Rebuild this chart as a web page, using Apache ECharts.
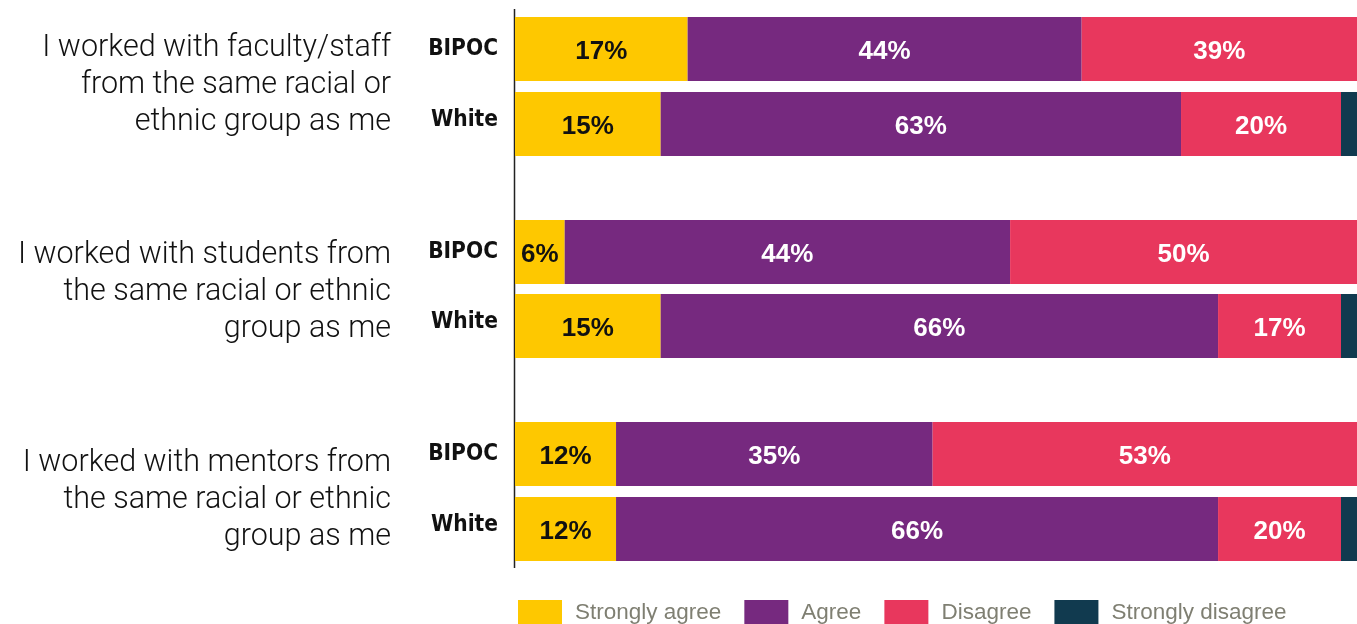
<!DOCTYPE html>
<html>
<head>
<meta charset="utf-8">
<script src="https://cdn.jsdelivr.net/npm/echarts@6/dist/echarts.min.js"></script>
<style>
  html, body { margin: 0; padding: 0; background: #fff; }
  #chart { width: 1357px; height: 624px; }
</style>
</head>
<body>
<div id="chart"></div>
<script>
// questions (one per group) and the two rows in each group
const questions = [
  'I worked with faculty/staff\nfrom the same racial or\nethnic group as me',
  'I worked with students from\nthe same racial or ethnic\ngroup as me',
  'I worked with mentors from\nthe same racial or ethnic\ngroup as me'
];
const groups = ['BIPOC', 'White'];
const seriesNames = ['Strongly agree', 'Agree', 'Disagree', 'Strongly disagree'];

// bar lengths as drawn (share of the bar, rows in order)
const strongAgree = [20.5, 17.3, 5.9, 17.3, 12.0, 12.0];
const agree = [46.8, 61.8, 52.9, 66.2, 37.6, 71.5];
const disagree = [32.7, 19.0, 41.2, 14.6, 50.4, 14.6];
const strongDisagree = [0, 1.9, 0, 1.9, 0, 1.9];

// printed labels
const strongAgreeLabels = ['17%', '15%', '6%', '15%', '12%', '12%'];
const agreeLabels = ['44%', '63%', '44%', '66%', '35%', '66%'];
const disagreeLabels = ['39%', '20%', '50%', '17%', '53%', '20%'];
const strongDisagreeLabels = ['', '', '', '', '', ''];

const colors = ['#fec800', '#76297f', '#e8375d', '#113a4f'];
const labelColors = ['#111', '#fff', '#fff', '#fff'];
const values = [strongAgree, agree, disagree, strongDisagree];
const labels = [strongAgreeLabels, agreeLabels, disagreeLabels, strongDisagreeLabels];

const chart = echarts.init(document.getElementById('chart'));

// one grid per question
const gridTops = [11.5, 215, 416.5];
const gridHeights = [150, 148, 150];
const questionY = [86, 293, 501];

const grid = [], xAxis = [], yAxis = [], series = [], graphic = [];
gridTops.forEach((top, g) => {
  grid.push({ left: 515, right: 0, top: top, height: gridHeights[g] });
  xAxis.push({ gridIndex: g, type: 'value', min: 0, max: 100, show: false });
  yAxis.push({
    gridIndex: g, type: 'category', inverse: true, data: groups,
    axisLine: { show: false }, axisTick: { show: false },
    axisLabel: {
      margin: 17, color: '#111', fontSize: 22.5, fontWeight: 'bold',
      fontFamily: '"Liberation Sans Narrow", "DejaVu Sans Condensed", sans-serif',
      formatter: (v, i) => i === 1 ? '{w|' + v + '}' : v,
      rich: { w: { fontSize: 22.5, fontWeight: 'bold', padding: [0, 0, 8, 0],
        fontFamily: '"Liberation Sans Narrow", "DejaVu Sans Condensed", sans-serif', color: '#111' } }
    }
  });
  seriesNames.forEach((name, s) => {
    series.push({
      name: name, type: 'bar', stack: 'q' + g,
      xAxisIndex: g, yAxisIndex: g, barWidth: 64,
      itemStyle: { color: colors[s] },
      label: {
        show: s < 3, position: 'inside', color: labelColors[s],
        fontSize: 26, fontWeight: 'bold', fontFamily: '"Liberation Sans", Arial, sans-serif',
        offset: [0, 3],
        formatter: p => labels[s][g * 2 + p.dataIndex]
      },
      data: values[s].slice(g * 2, g * 2 + 2)
    });
  });
  graphic.push({
    type: 'text', right: 1357 - 391, top: questionY[g] - 56,
    style: {
      text: questions[g], textAlign: 'right', fill: '#111',
      font: '300 30.5px Roboto, "Liberation Sans", sans-serif', lineHeight: 37
    }
  });
});

// vertical axis line across all groups
graphic.push({
  type: 'line', shape: { x1: 514.5, y1: 9, x2: 514.5, y2: 568 },
  style: { stroke: '#222', lineWidth: 1.5 }
});

chart.setOption({
  animation: false,
  color: colors,
  grid: grid,
  xAxis: xAxis,
  yAxis: yAxis,
  legend: {
    data: seriesNames, left: 518, top: 600, padding: 0, icon: 'rect',
    itemWidth: 44, itemHeight: 26, itemGap: 23,
    textStyle: { color: '#7f7f72', fontSize: 22.5, fontFamily: '"Liberation Sans", Arial, sans-serif', padding: [0, 0, 0, 8] }
  },
  graphic: graphic,
  series: series
});
</script>
</body>
</html>
